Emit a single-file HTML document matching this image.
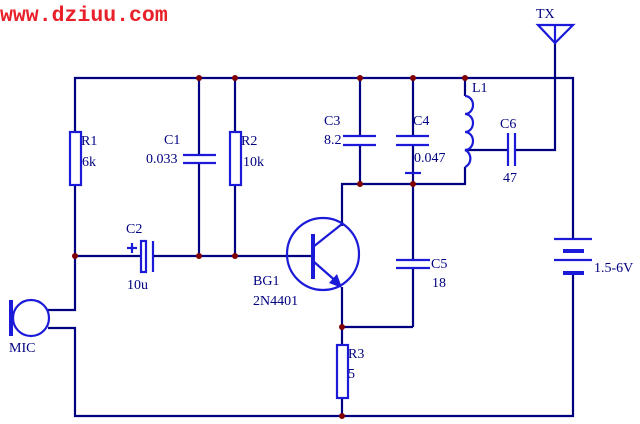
<!DOCTYPE html>
<html><head><meta charset="utf-8"><style>
html,body{margin:0;padding:0;background:#fff;}
svg{display:block}
text{font-family:"Liberation Serif",serif;font-size:14px;fill:#000080}
</style></head><body>
<svg width="640" height="424" viewBox="0 0 640 424" xmlns="http://www.w3.org/2000/svg">
<text x="0" y="21" style="font-family:'Liberation Mono',monospace;font-weight:bold;font-size:21.5px;fill:#e8202a">www.dziuu.com</text>
<g fill="none" stroke="#000080" stroke-width="2.2">
<polyline points="75,132 75,78 573,78 573,238"/>
<polyline points="573,274 573,416 75,416 75,328 48,328"/>
<polyline points="75,185 75,310 48,310"/>
<line x1="75" y1="256" x2="141" y2="256"/>
<line x1="153" y1="256" x2="288" y2="256"/>
<line x1="288" y1="256" x2="313" y2="256"/>
<line x1="199" y1="78" x2="199" y2="155"/>
<line x1="199" y1="163" x2="199" y2="256"/>
<line x1="235" y1="78" x2="235" y2="132"/>
<line x1="235" y1="185" x2="235" y2="256"/>
<line x1="360" y1="78" x2="360" y2="136"/>
<line x1="360" y1="145" x2="360" y2="184"/>
<line x1="413" y1="78" x2="413" y2="136"/>
<line x1="413" y1="145" x2="413" y2="260"/>
<line x1="413" y1="268" x2="413" y2="327"/>
<polyline points="342,327 413,327"/>
<polyline points="342,226 342,184 465,184 465,167"/>
<line x1="465" y1="78" x2="465" y2="96"/>
<polyline points="465,150 508,150"/>
<polyline points="515,150 555,150 555,43"/>
<line x1="342" y1="287" x2="342" y2="345"/>
<line x1="342" y1="398" x2="342" y2="416"/>
</g>
<g fill="none" stroke="#1a1ad8" stroke-width="2.2">
<rect x="70" y="132" width="11" height="53"/>
<rect x="230" y="132" width="11" height="53"/>
<rect x="337" y="345" width="11" height="53"/>
<line x1="183" y1="155" x2="216" y2="155"/><line x1="183" y1="163" x2="216" y2="163"/>
<rect x="141" y="241" width="5" height="31"/>
<line x1="153" y1="241" x2="153" y2="272"/>
<line x1="127" y1="248" x2="137" y2="248"/><line x1="132" y1="243" x2="132" y2="253"/>
<line x1="343" y1="136" x2="376" y2="136"/><line x1="343" y1="145" x2="376" y2="145"/>
<line x1="396" y1="136" x2="429" y2="136"/><line x1="396" y1="145" x2="429" y2="145"/>
<line x1="405" y1="173" x2="421" y2="173"/>
<line x1="396" y1="260" x2="430" y2="260"/><line x1="396" y1="268" x2="430" y2="268"/>
<line x1="508" y1="133" x2="508" y2="166"/><line x1="515" y1="133" x2="515" y2="166"/>
<path d="M465,96 a8,9 0 0 1 0,18 a8,9 0 0 1 0,18 a8,9 0 0 1 0,18 a8,9 0 0 1 0,17"/>
<polygon points="538,25 573,25 555,43"/>
<line x1="555" y1="25" x2="555" y2="43"/>
<line x1="554" y1="239" x2="592" y2="239"/><line x1="554" y1="260" x2="592" y2="260"/>
<line x1="563" y1="251" x2="584" y2="251" stroke-width="4"/><line x1="563" y1="273" x2="584" y2="273" stroke-width="4"/>
<circle cx="323" cy="254" r="36"/>
<line x1="313" y1="234" x2="313" y2="279" stroke-width="4"/>
<line x1="313" y1="247" x2="342" y2="224"/>
<line x1="313" y1="261" x2="338" y2="283"/>
<circle cx="31" cy="318" r="18"/>
<line x1="11" y1="300" x2="11" y2="336" stroke-width="4"/>
</g>
<polygon points="342,288 329,283 337,274" fill="#1a1ad8"/>
<g fill="#800000">
<circle cx="75" cy="256" r="3"/><circle cx="199" cy="256" r="3"/><circle cx="235" cy="256" r="3"/>
<circle cx="199" cy="78" r="3"/><circle cx="235" cy="78" r="3"/><circle cx="360" cy="78" r="3"/>
<circle cx="413" cy="78" r="3"/><circle cx="465" cy="78" r="3"/><circle cx="360" cy="184" r="3"/>
<circle cx="413" cy="184" r="3"/><circle cx="342" cy="327" r="3"/><circle cx="342" cy="416" r="3"/>
</g>
<text x="81" y="145">R1</text><text x="82" y="166">6k</text>
<text x="164" y="144">C1</text><text x="146" y="163">0.033</text>
<text x="241" y="145">R2</text><text x="243" y="166">10k</text>
<text x="126" y="233">C2</text><text x="127" y="289">10u</text>
<text x="324" y="125">C3</text><text x="324" y="144">8.2</text>
<text x="413" y="125">C4</text><text x="414" y="162">0.047</text>
<text x="472" y="92">L1</text>
<text x="500" y="128">C6</text><text x="503" y="182">47</text>
<text x="536" y="18">TX</text>
<text x="431" y="268">C5</text><text x="432" y="287">18</text>
<text x="594" y="272">1.5-6V</text>
<text x="253" y="285">BG1</text><text x="253" y="305">2N4401</text>
<text x="348" y="358">R3</text><text x="348" y="378">5</text>
<text x="9" y="352">MIC</text>
</svg>
</body></html>
